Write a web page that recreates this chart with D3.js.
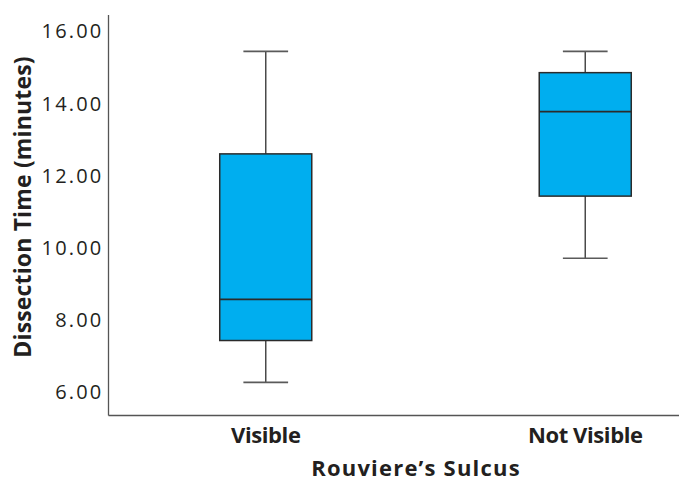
<!DOCTYPE html>
<html>
<head>
<meta charset="utf-8">
<script src="https://cdn.jsdelivr.net/npm/d3@7"></script>
<style>
  html, body { margin: 0; padding: 0; background: #fff; }
  svg { display: block; font-family: "Open Sans", "Noto Sans", sans-serif; }
</style>
</head>
<body>
<svg id="chart" width="679" height="483"></svg>
<script>
const categories = ["Visible", "Not Visible"];
const whiskerLow  = [6.28, 9.72];
const q1          = [7.44, 11.44];
const medians     = [8.58, 13.78];
const q3          = [12.61, 14.86];
const whiskerHigh = [15.45, 15.45];
const yTicks = [6, 8, 10, 12, 14, 16];
const xTitle = "Rouviere\u2019s Sulcus";
const yTitle = "Dissection Time (minutes)";

const svg = d3.select("#chart");
const W = 679, H = 483;
const axisX = 108.5, axisTop = 15, axisBottom = 415.5;

const y = d3.scaleLinear().domain([6, 16]).range([392.5, 31.5]);
const x = d3.scaleBand().domain(categories).range([106, 745]);
const boxW = x.bandwidth() * 0.288;
const capW = boxW * 0.486;

const boxColor = "#00AEEF";
const strokeDark = "#2b2b2b";
const whiskerColor = "#4a4a4a";
const textColor = "#231f20";

// Axes lines
svg.append("line").attr("x1", axisX).attr("x2", axisX)
  .attr("y1", axisTop).attr("y2", axisBottom)
  .attr("stroke", "#555").attr("stroke-width", 1.3);
svg.append("line").attr("x1", axisX).attr("x2", W)
  .attr("y1", axisBottom).attr("y2", axisBottom)
  .attr("stroke", "#555").attr("stroke-width", 1.3);

// Y axis tick labels via d3 axis
const yAxis = d3.axisLeft(y).tickValues(yTicks).tickFormat(d3.format(".2f")).tickSize(0).tickPadding(5);
const gy = svg.append("g").attr("transform", `translate(${axisX},0)`).call(yAxis);
gy.select(".domain").remove();
gy.selectAll("text").attr("font-size", 20).attr("fill", textColor)
  .attr("font-family", "'Open Sans', sans-serif").style("letter-spacing", "2.2px");

// X category labels via d3 axis
const xAxis = d3.axisBottom(x).tickSize(0).tickPadding(0);
const gx = svg.append("g").attr("transform", `translate(0,${axisBottom})`).call(xAxis);
gx.select(".domain").remove();
gx.selectAll("text").attr("font-size", 22).attr("font-weight", "bold").attr("fill", textColor)
  .attr("font-family", "'Open Sans', sans-serif").style("letter-spacing", "-0.4px")
  .attr("dy", null).attr("y", 27.5);

// Titles
svg.append("text").attr("x", 416).attr("y", 476)
  .attr("text-anchor", "middle").attr("font-size", 22).attr("font-weight", "bold")
  .style("letter-spacing", "1.2px")
  .attr("fill", textColor).text(xTitle);
svg.append("text")
  .attr("transform", "translate(31,207) rotate(-90)")
  .attr("text-anchor", "middle").attr("font-size", 23).attr("font-weight", "bold")
  .style("letter-spacing", "0.15px")
  .attr("fill", textColor).text(yTitle);

// Boxplots
const data = categories.map((c, i) => ({
  c, lo: whiskerLow[i], q1: q1[i], med: medians[i], q3: q3[i], hi: whiskerHigh[i]
}));

const g = svg.append("g").selectAll("g").data(data).join("g")
  .attr("transform", d => `translate(${x(d.c) + x.bandwidth() / 2},0)`);

// whiskers
g.append("line").attr("x1", 0).attr("x2", 0)
  .attr("y1", d => y(d.hi)).attr("y2", d => y(d.q3))
  .attr("stroke", whiskerColor).attr("stroke-width", 1.5);
g.append("line").attr("x1", 0).attr("x2", 0)
  .attr("y1", d => y(d.q1)).attr("y2", d => y(d.lo))
  .attr("stroke", whiskerColor).attr("stroke-width", 1.5);
g.append("line").attr("x1", -capW / 2).attr("x2", capW / 2)
  .attr("y1", d => y(d.hi)).attr("y2", d => y(d.hi))
  .attr("stroke", "#5a5a5a").attr("stroke-width", 1.6);
g.append("line").attr("x1", -capW / 2).attr("x2", capW / 2)
  .attr("y1", d => y(d.lo)).attr("y2", d => y(d.lo))
  .attr("stroke", "#5a5a5a").attr("stroke-width", 1.6);

// boxes
g.append("rect").attr("x", -boxW / 2).attr("width", boxW)
  .attr("y", d => y(d.q3)).attr("height", d => y(d.q1) - y(d.q3))
  .attr("fill", boxColor).attr("stroke", strokeDark).attr("stroke-width", 1.5);
// medians
g.append("line").attr("x1", -boxW / 2).attr("x2", boxW / 2)
  .attr("y1", d => y(d.med)).attr("y2", d => y(d.med))
  .attr("stroke", strokeDark).attr("stroke-width", 1.6);
</script>
</body>
</html>
